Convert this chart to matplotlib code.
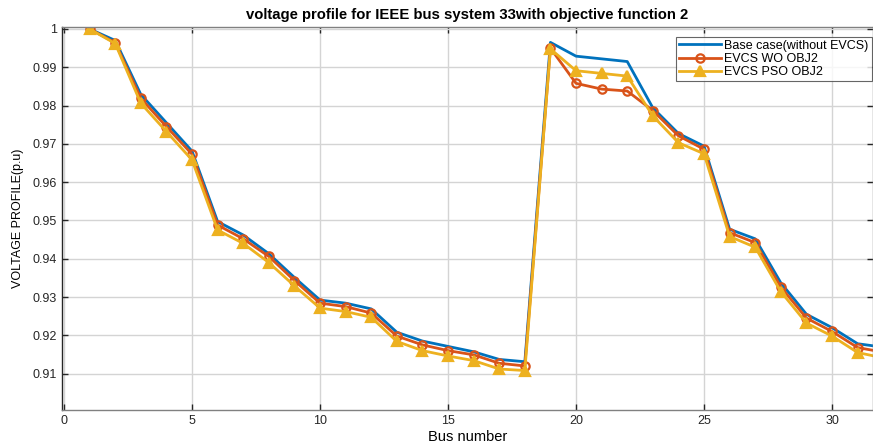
import numpy as np
import matplotlib.pyplot as plt

plt.rcParams['font.family'] = ['Liberation Sans', 'DejaVu Sans']

bus = np.arange(1, 34)

base_case = [1.0, 0.9970, 0.9829, 0.9755, 0.9681, 0.9497, 0.9462, 0.9413, 0.9351,
             0.9292, 0.9284, 0.9269, 0.9208, 0.9185, 0.9171, 0.9157, 0.9137, 0.9131,
             0.9965, 0.9929, 0.9922, 0.9915, 0.9794, 0.9727, 0.9694, 0.9477, 0.9452,
             0.9337, 0.9255, 0.9220, 0.9178, 0.9169, 0.9166]

evcs_wo = [1.0, 0.9964, 0.9819, 0.9745, 0.9673, 0.9488, 0.9452, 0.9406, 0.9343,
           0.9284, 0.9275, 0.9258, 0.9198, 0.9175, 0.9160, 0.9149, 0.9127, 0.9120,
           0.9950, 0.9858, 0.9843, 0.9838, 0.9787, 0.9721, 0.9686, 0.9468, 0.9442,
           0.9326, 0.9245, 0.9210, 0.9168, 0.9156, 0.9153]

evcs_pso = [1.0, 0.9962, 0.9806, 0.9732, 0.9658, 0.9475, 0.9440, 0.9390, 0.9329,
            0.9271, 0.9262, 0.9247, 0.9184, 0.9160, 0.9146, 0.9134, 0.9112, 0.9108,
            0.9948, 0.9891, 0.9884, 0.9877, 0.9773, 0.9703, 0.9674, 0.9458, 0.9430,
            0.9314, 0.9232, 0.9198, 0.9155, 0.9141, 0.9138]

fig = plt.figure(figsize=(8.73, 4.45), dpi=100)
ax = fig.add_axes([0.071, 0.0787, 0.929, 0.8596])

ax.plot(bus, base_case, color='#0072BD', lw=2, label='Base case(without EVCS)')
ax.plot(bus, evcs_wo, color='#D95319', lw=2, marker='o', ms=6, mfc='none',
        mew=1.6, label='EVCS WO OBJ2')
ax.plot(bus, evcs_pso, color='#EDB120', lw=2, marker='^', ms=6.5, mfc='#EDB120',
        mew=1.6, label='EVCS PSO OBJ2')

ax.set_xlim(-0.08, 31.6)
ax.set_ylim(0.9005, 1.0004)
ax.set_xticks(np.arange(0, 31, 5))
ax.set_yticks(np.arange(0.91, 1.001, 0.01))
ax.set_yticklabels(['0.91', '0.92', '0.93', '0.94', '0.95', '0.96', '0.97', '0.98', '0.99', '1'])

ax.grid(True, color='#d4d4d4', lw=1)
ax.set_axisbelow(True)
ax.tick_params(direction='in', length=4, top=True, right=True, labelsize=9,
               colors='#262626', width=1)
for s in ax.spines.values():
    s.set_color('#808080')
    s.set_linewidth(1)
ax.spines['left'].set_color('#262626')

ax.set_title('voltage profile for IEEE bus system 33with objective function 2',
             fontsize=10.75, fontweight='bold', pad=6)
ax.set_xlabel('Bus number', fontsize=10.5, labelpad=2)
ax.set_ylabel('VOLTAGE PROFILE(p.u)', fontsize=9, labelpad=6)

leg = ax.legend(loc='upper right', fontsize=9, frameon=True, fancybox=False,
                edgecolor='#404040', handlelength=3.3, borderpad=0.25,
                labelspacing=0.1, handletextpad=0.3, borderaxespad=0,
                bbox_to_anchor=(0.9985, 0.976))
leg.get_frame().set_linewidth(0.8)

fig.savefig('out.png', dpi=100)
